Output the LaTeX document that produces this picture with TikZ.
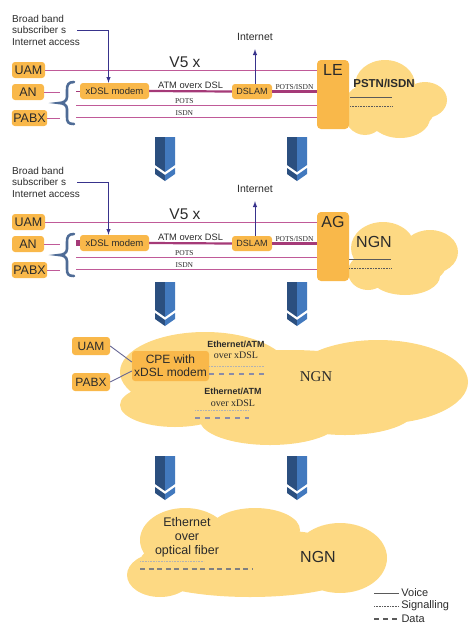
\documentclass[tikz,border=0pt]{standalone}
\usepackage{fontspec}
\setmainfont{Liberation Sans}
\newfontfamily\tnr{Liberation Serif}
\usepackage{tikz}
\definecolor{boxorange}{HTML}{F9B84A}
\definecolor{cloudyellow}{HTML}{FDD983}
\definecolor{wirepink}{HTML}{C05A98}
\definecolor{wiredeep}{HTML}{A53A78}
\definecolor{inkblue}{HTML}{38338C}
\definecolor{bracegrey}{HTML}{4F6C96}
\definecolor{chevdark}{HTML}{2B4F7F}
\definecolor{chevlight}{HTML}{4279BE}
\definecolor{legendgrey}{HTML}{5A5A5A}
\definecolor{dashgrey}{HTML}{8A8CA8}
\definecolor{textgrey}{HTML}{2B2B2B}
\usetikzlibrary{arrows, positioning, calc}
\newcommand{\fsz}[1]{\fontsize{#1}{#1}\selectfont}

\begin{document}
\begin{tikzpicture}[
    x=1pt, y=-1pt, >=latex,
    every node/.style={text=textgrey},
    box/.style={rectangle, rounded corners=3pt, fill=boxorange, inner sep=1.5pt, minimum height=16pt, font=\fsz{12.5}},
    gwbox/.style={rectangle, rounded corners=4pt, fill=boxorange, minimum width=32pt, minimum height=69pt},
    wire/.style={wirepink, line width=0.9pt},
    fatwire/.style={wiredeep, line width=2.2pt},
    wiretag/.style={font=\tnr\fsz{7.5}, inner sep=1pt},
    note/.style={align=left, font=\fontsize{10}{11.5}\selectfont, inner sep=0pt},
    cloudfill/.style={fill=cloudyellow},
    voiceline/.style={legendgrey, line width=0.9pt},
    sigline/.style={legendgrey, line width=0.7pt, dash pattern=on 0.8pt off 0.8pt},
    dataline/.style={legendgrey, line width=1.1pt, dash pattern=on 5pt off 4pt},
    bluearrow/.style={->, inkblue, line width=1pt},
    cpelink/.style={draw=black!70!blue!60, line width=0.9pt}
]
\useasboundingbox (0,0) rectangle (470,638);

% clouds
\fill[cloudfill] (385,85) ellipse[x radius=30pt, y radius=25pt]
    (425,100) ellipse[x radius=22pt, y radius=18pt]
    (400,118) ellipse[x radius=30pt, y radius=20pt]
    (365,110) ellipse[x radius=22pt, y radius=25pt]
    (395,108) ellipse[x radius=40pt, y radius=26pt];
\fill[cloudfill] (383,248) ellipse[x radius=32pt, y radius=26pt]
    (430,252) ellipse[x radius=28pt, y radius=22pt]
    (405,276) ellipse[x radius=35pt, y radius=19pt]
    (368,272) ellipse[x radius=20pt, y radius=18pt]
    (402,262) ellipse[x radius=45pt, y radius=27pt];
\fill[cloudfill] (205,372) ellipse[x radius=85pt, y radius=40pt]
    (175,405) ellipse[x radius=55pt, y radius=22pt]
    (270,420) ellipse[x radius=70pt, y radius=25pt]
    (378,382) ellipse[x radius=90pt, y radius=42pt]
    (345,410) ellipse[x radius=70pt, y radius=25pt]
    (290,392) ellipse[x radius=130pt, y radius=42pt];
\fill[cloudfill] (185,540) ellipse[x radius=45pt, y radius=32pt]
    (255,530) ellipse[x radius=45pt, y radius=22pt]
    (340,558) ellipse[x radius=47pt, y radius=35pt]
    (250,570) ellipse[x radius=110pt, y radius=27pt]
    (160,575) ellipse[x radius=33pt, y radius=22pt]
    (255,562) ellipse[x radius=115pt, y radius=33pt];

% access part, old and new
\foreach \dy/\gwtext/\stub in {0/LE/0.9pt, 152/AG/6pt} {
\begin{scope}[shift={(0,\dy)}]
  \node[note, anchor=west] (bb) at (12,30) {Broad band\\subscriber s\\Internet access};
  \node[box, minimum width=33pt] (uam) at (28.5,70) {UAM};
  \node[box, minimum width=32pt] (an) at (28,92) {AN};
  \node[box, minimum width=35pt] (pabx) at (29.5,118) {PABX};
  \node[box, minimum width=69pt, font=\fsz{9.5}] (modem) at (114.5,91) {xDSL modem};
  \node[box, minimum width=40pt, minimum height=15pt, font=\fsz{9}] (dslam) at (252,91.5) {DSLAM};
  \node[gwbox] (gw) at (333,94.5) {};
  \node[font=\fsz{16}, below=1pt of gw.north] (gwlabel) {\gwtext};
  \node[font=\fsz{15.5}] (vfive) at (185,62) {V5 x};
  \node[font=\fsz{10.5}] (inet) at (255,37) {Internet};
  \coordinate (brL) at (60,103);
  \coordinate (potsL) at (76,105);
  \coordinate (isdnL) at (76,117);

  \draw[bracegrey, line width=2.6pt, line cap=round] (74,82) .. controls (68,82) and (67,85) .. (67,90) -- (67,97)
      .. controls (67,101) and (63,103) .. (59,103) .. controls (63,103) and (67,105) .. (67,109) -- (67,117)
      .. controls (67,122) and (68,124) .. (74,124);

  \draw[wire] (uam.east) -- (uam.east -| gw.west);
  \draw[wire] (an.east) -- (an.east -| brL);
  \draw[wire] (pabx.east) -- (pabx.east -| brL);
  \draw[wiredeep, line width=\stub] (modem.west) -- ++(-4,0);
  \draw[fatwire] (modem.east) -- node[above, font=\fsz{9.3}, inner sep=1.5pt] (atm) {ATM overx DSL} (dslam.west);
  \draw[fatwire] (dslam.east) -- node[wiretag, above] (potsisdn) {POTS/ISDN} (dslam.east -| gw.west);
  \draw[wire] (potsL) -- node[wiretag, above, pos=0.45] (pots) {POTS} (potsL -| gw.west);
  \draw[wire] (isdnL) -- node[wiretag, above, pos=0.45] (isdn) {ISDN} (isdnL -| gw.west);
  \draw[bluearrow] ([xshift=-3pt]bb.east) -| ([xshift=-6pt]modem.north);
  \draw[bluearrow, shorten >=5pt] (inet.south |- dslam.north) -- (inet.south);
\end{scope}
}

% network side of the first two
\node[font=\bfseries\fsz{11.5}] (pstn) at (384,83) {PSTN/ISDN};
\draw[voiceline] (350,97) -- (392,97);
\draw[sigline] (350,106) -- (392,106);
\node[font=\fsz{16}] (ngntop) at (374,242) {NGN};
\draw[voiceline] (349,259) -- (391,259);
\draw[sigline] (349,268) -- (391,268);

% CPE with modem
\node[box, minimum width=38pt, minimum height=18pt, font=\fsz{12}] (uamcpe) at (91,346) {UAM};
\node[box, minimum width=38pt, minimum height=18pt, font=\fsz{12}] (pabxcpe) at (91,382) {PABX};
\node[box, minimum width=77pt, minimum height=30pt, align=center, font=\fontsize{12}{13}\selectfont] (cpe) at (170.5,366) {CPE with\\xDSL modem};
\draw[cpelink] (uamcpe.east) -- ([yshift=4pt]cpe.west);
\draw[cpelink] (pabxcpe.east) -- ([yshift=-5pt]cpe.west);
\node[font=\bfseries\fsz{8.9}] (ethA) at (236,344) {Ethernet/ATM};
\node[font=\tnr\fsz{10}] (overA) at (236,355) {over xDSL};
\draw[sigline, black!30] (209,366) -- (264,366);
\draw[dataline, dashgrey, line width=1.5pt, dash pattern=on 5pt off 5pt] (209,374) -- (264,374);
\node[font=\bfseries\fsz{8.9}] (ethB) at (233,391) {Ethernet/ATM};
\node[font=\tnr\fsz{10}] (overB) at (233,403) {over xDSL};
\draw[sigline, black!30] (195,410) -- (249,410);
\draw[dataline, dashgrey, line width=1.5pt, dash pattern=on 5pt off 5pt] (195,418) -- (249,418);
\node[font=\tnr\fsz{15}] (ngnmid) at (316,377) {NGN};

% fiber
\node[align=center, font=\fontsize{12.5}{14}\selectfont] (fiber) at (187,537) {Ethernet\\over\\optical fiber};
\draw[sigline, black!30] (140,561) -- (204,561);
\draw[dataline, black!50, dash pattern=on 5pt off 3.6pt] (140,569) -- (252,569);
\node[font=\fsz{16}] (ngnlow) at (318,557) {NGN};

% legend
\coordinate (lgvoice) at (374,593);
\coordinate (lgsig) at (374,606);
\coordinate (lgdata) at (374,619);
\draw[voiceline] (lgvoice) -- ++(25,0) node[right, font=\fsz{11}, inner sep=2pt] (lvoice) {Voice};
\draw[sigline] (lgsig) -- ++(25,0) node[right, font=\fsz{11}, inner sep=2pt] (lsig) {Signalling};
\draw[dataline] (lgdata) -- ++(25,0) node[right, font=\fsz{11}, inner sep=2pt] (ldata) {Data};

% migration arrows
\foreach \cx/\ty in {165/137, 297/137, 165/282, 297/282, 165/456, 297/456} {
  \fill[chevdark] (\cx-10,\ty) -- (\cx,\ty) -- (\cx,\ty+35) -- (\cx-10,\ty+28) -- cycle;
  \fill[chevlight] (\cx,\ty) -- (\cx+10,\ty) -- (\cx+10,\ty+28) -- (\cx,\ty+35) -- cycle;
  \fill[chevdark] (\cx-10,\ty+31) -- (\cx,\ty+38) -- (\cx,\ty+44) -- (\cx-10,\ty+37) -- cycle;
  \fill[chevlight] (\cx,\ty+38) -- (\cx+10,\ty+31) -- (\cx+10,\ty+37) -- (\cx,\ty+44) -- cycle;
}
\end{tikzpicture}
\end{document}
